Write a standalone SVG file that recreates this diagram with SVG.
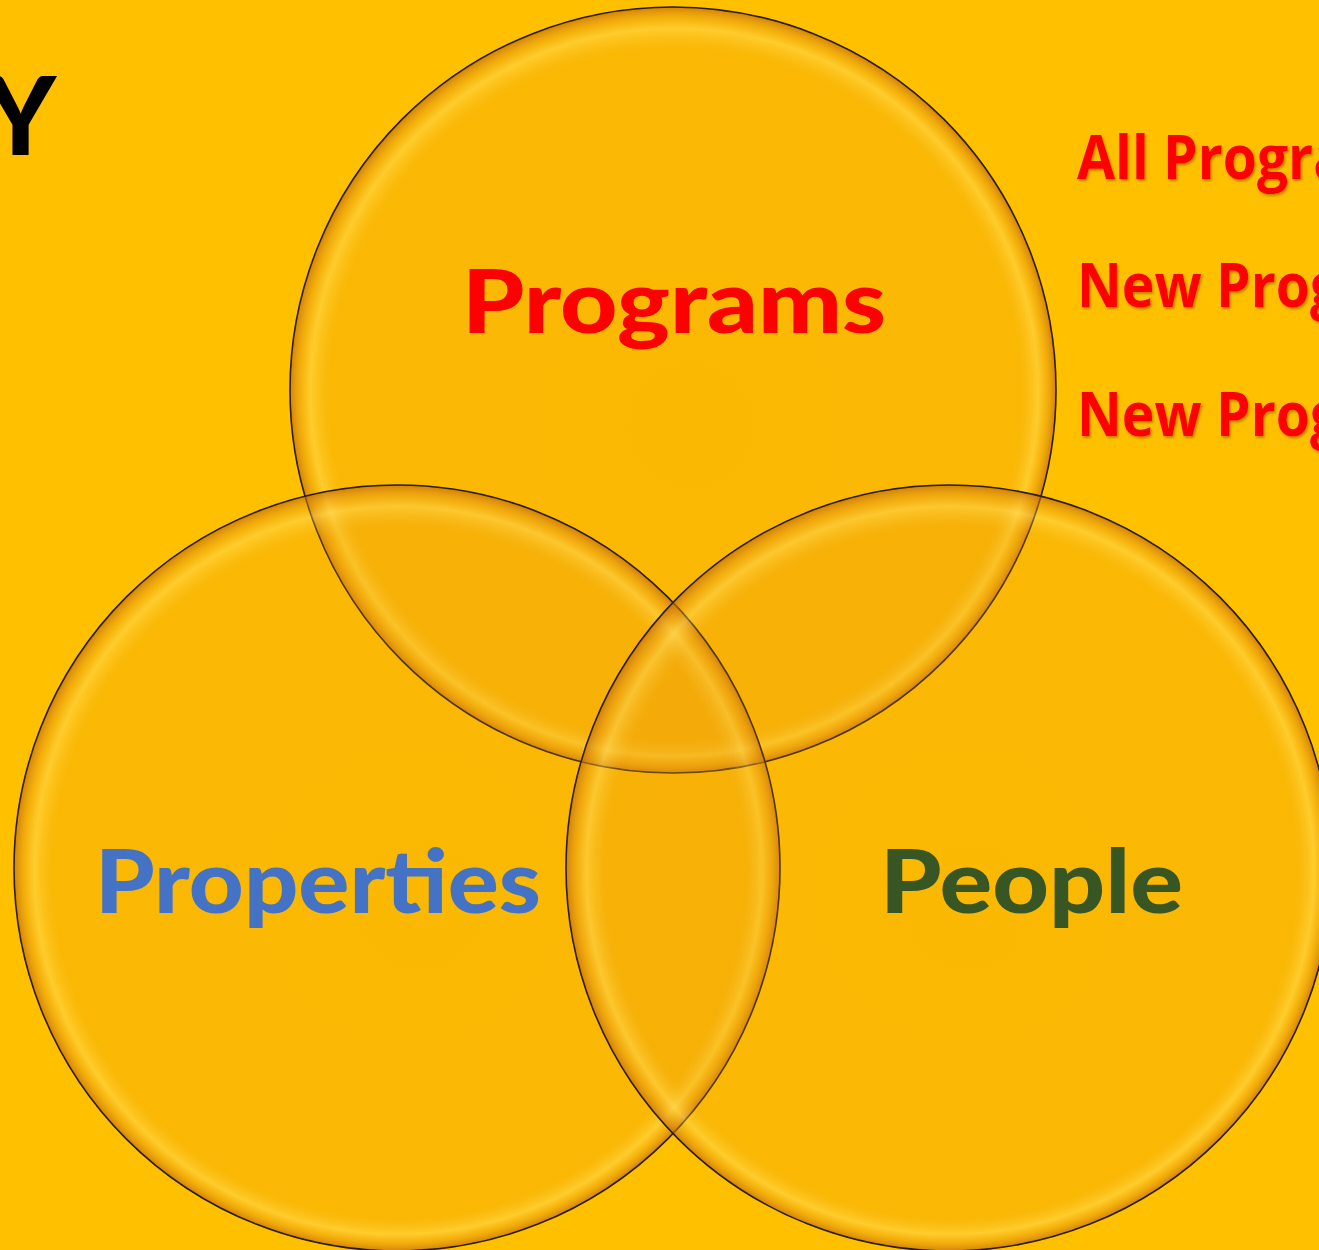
<svg xmlns="http://www.w3.org/2000/svg" width="1319" height="1250" viewBox="0 0 1319 1250">
<defs>
<style>
.ring{fill:url(#bubble);stroke:#2b1d08;stroke-width:1.6}
.big{font-family:"Lato","Liberation Sans",sans-serif;font-weight:900}
.side{font-family:"Open Sans","Noto Sans",sans-serif;font-weight:700;fill:#ff0000;font-size:60px;filter:url(#shadow)}
</style>
<radialGradient id="bubble" cx="0.5" cy="0.5" r="0.5" fx="0.53" fy="0.56">
<stop offset="0" stop-color="#e89512" stop-opacity="0.18"/>
<stop offset="0.9" stop-color="#e89512" stop-opacity="0.2"/>
<stop offset="0.95" stop-color="#ffe070" stop-opacity="0.4"/>
<stop offset="0.972" stop-color="#e8a020" stop-opacity="0.4"/>
<stop offset="1" stop-color="#c0680a" stop-opacity="0.7"/>
</radialGradient>
<filter id="shadow" x="-5%" y="-20%" width="110%" height="140%">
<feDropShadow dx="1.5" dy="2" stdDeviation="1.2" flood-color="#7a4a00" flood-opacity="0.5"/>
</filter>
</defs>
<rect width="1319" height="1250" fill="#ffc000"/>
<text class="big" x="56" y="155" text-anchor="end" font-size="108" fill="#000">Y</text>
<g id="side-texts">
<text class="side" transform="translate(1077,179) scale(0.92,1)" x="0" y="0">All Progra</text>
<text class="side" transform="translate(1077,307) scale(0.92,1)" x="0" y="0">New Prog</text>
<text class="side" transform="translate(1077,436) scale(0.92,1)" x="0" y="0">New Prog</text>
</g>
<g id="circles">
<g id="programs">
<circle class="ring" cx="673" cy="390" r="383"/>
</g>
<g id="properties">
<circle class="ring" cx="397" cy="868" r="383"/>
</g>
<g id="people">
<circle class="ring" cx="949" cy="868" r="383"/>
</g>
</g>
<g id="labels">
<text class="big" x="462" y="333" font-size="88" fill="#ff0000" textLength="424" lengthAdjust="spacingAndGlyphs">Programs</text>
<text class="big" x="95" y="913" font-size="87" fill="#4472c4" textLength="446" lengthAdjust="spacingAndGlyphs">Properties</text>
<text class="big" x="880" y="913" font-size="87" fill="#375623" textLength="303" lengthAdjust="spacingAndGlyphs">People</text>
</g>
</svg>
